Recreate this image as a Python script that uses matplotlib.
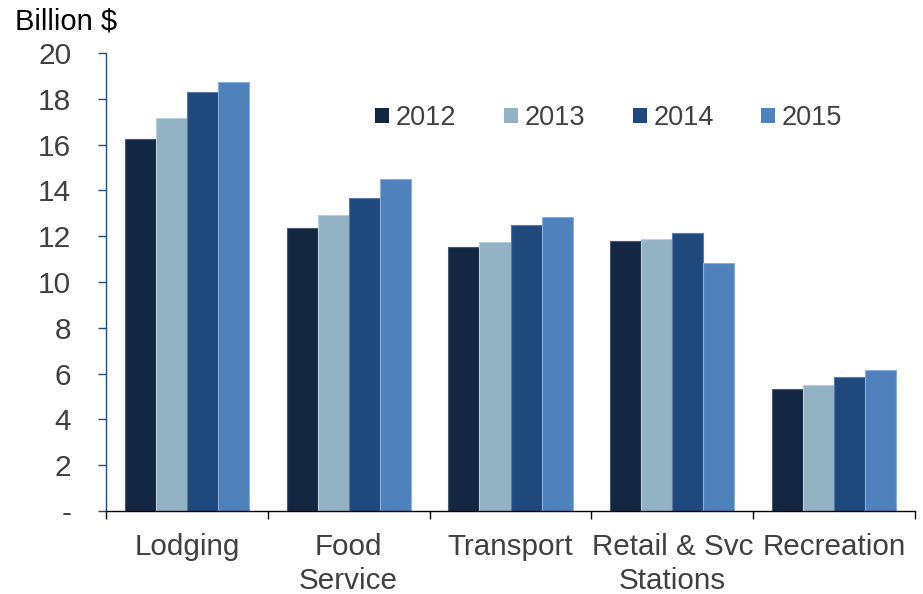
import matplotlib
matplotlib.use("Agg")
import matplotlib.pyplot as plt
import numpy as np
from matplotlib.ticker import FixedLocator, FuncFormatter

plt.rcParams['font.family'] = ['Liberation Sans', 'DejaVu Sans']

categories = ["Lodging", "Food\nService", "Transport", "Retail & Svc\nStations", "Recreation"]
years = ["2012", "2013", "2014", "2015"]
v2012 = [16.25, 12.36, 11.51, 11.78, 5.33]
v2013 = [17.17, 12.93, 11.75, 11.88, 5.50]
v2014 = [18.30, 13.67, 12.47, 12.14, 5.85]
v2015 = [18.73, 14.50, 12.86, 10.83, 6.17]
series = [v2012, v2013, v2014, v2015]
colors = ["#132743", "#93b2c4", "#1f497d", "#4f81bd"]
edges = ["#4a5a70", "#b8cfdc", "#5a7aa5", "#8aaedb"]

fig = plt.figure(figsize=(9.23, 5.94), dpi=100)
ax = fig.add_axes([106/923, 1-511/594, (915-106)/923, (511-53)/594])

x = np.arange(len(categories))
w = 0.192
for i, (vals, c, ec) in enumerate(zip(series, colors, edges)):
    ax.bar(x + (i - 1.5) * w, vals, width=w, color=c, edgecolor=ec, linewidth=0.8, label=years[i], zorder=2)

ax.set_xlim(-0.5, len(categories) - 0.5)
ax.set_ylim(0, 20)
ax.set_yticks(np.arange(0, 21, 2))
ax.yaxis.set_major_formatter(FuncFormatter(lambda v, p: "-" if v == 0 else f"{int(v)}"))
ax.set_xticks(x)
ax.set_xticklabels(categories, linespacing=1.25)
ax.xaxis.set_minor_locator(FixedLocator(np.arange(-0.5, len(categories), 1.0)))

for s in ["top", "right"]:
    ax.spines[s].set_visible(False)
ax.spines["left"].set_color("#1f4e79")
ax.spines["left"].set_linewidth(1.0)
ax.spines["bottom"].set_color("#000000")
ax.spines["bottom"].set_linewidth(1.0)

ax.tick_params(axis="y", direction="out", length=6, width=1, color="#1f4e79",
               labelsize=21.5, labelcolor="#404040", pad=19)
ax.tick_params(axis="x", which="major", length=0, labelsize=21.3, labelcolor="#404040", pad=16)
ax.tick_params(axis="x", which="minor", direction="out", length=6, width=1, color="#000000")

fig.text(15/923, 1-22/594, "Billion $", fontsize=21, color="#000000", va="center", ha="left")

leg = ax.legend(loc="center left", bbox_to_anchor=(375/923, 1-118/594), bbox_transform=fig.transFigure,
                ncol=4, frameon=False, fontsize=19.5, handlelength=0.52, handleheight=0.52,
                handletextpad=0.25, columnspacing=1.75, borderpad=0, borderaxespad=0)
for t in leg.get_texts():
    t.set_color("#404040")
for h in leg.legend_handles:
    h.set_linewidth(0)

fig.savefig("out.png", dpi=100)
